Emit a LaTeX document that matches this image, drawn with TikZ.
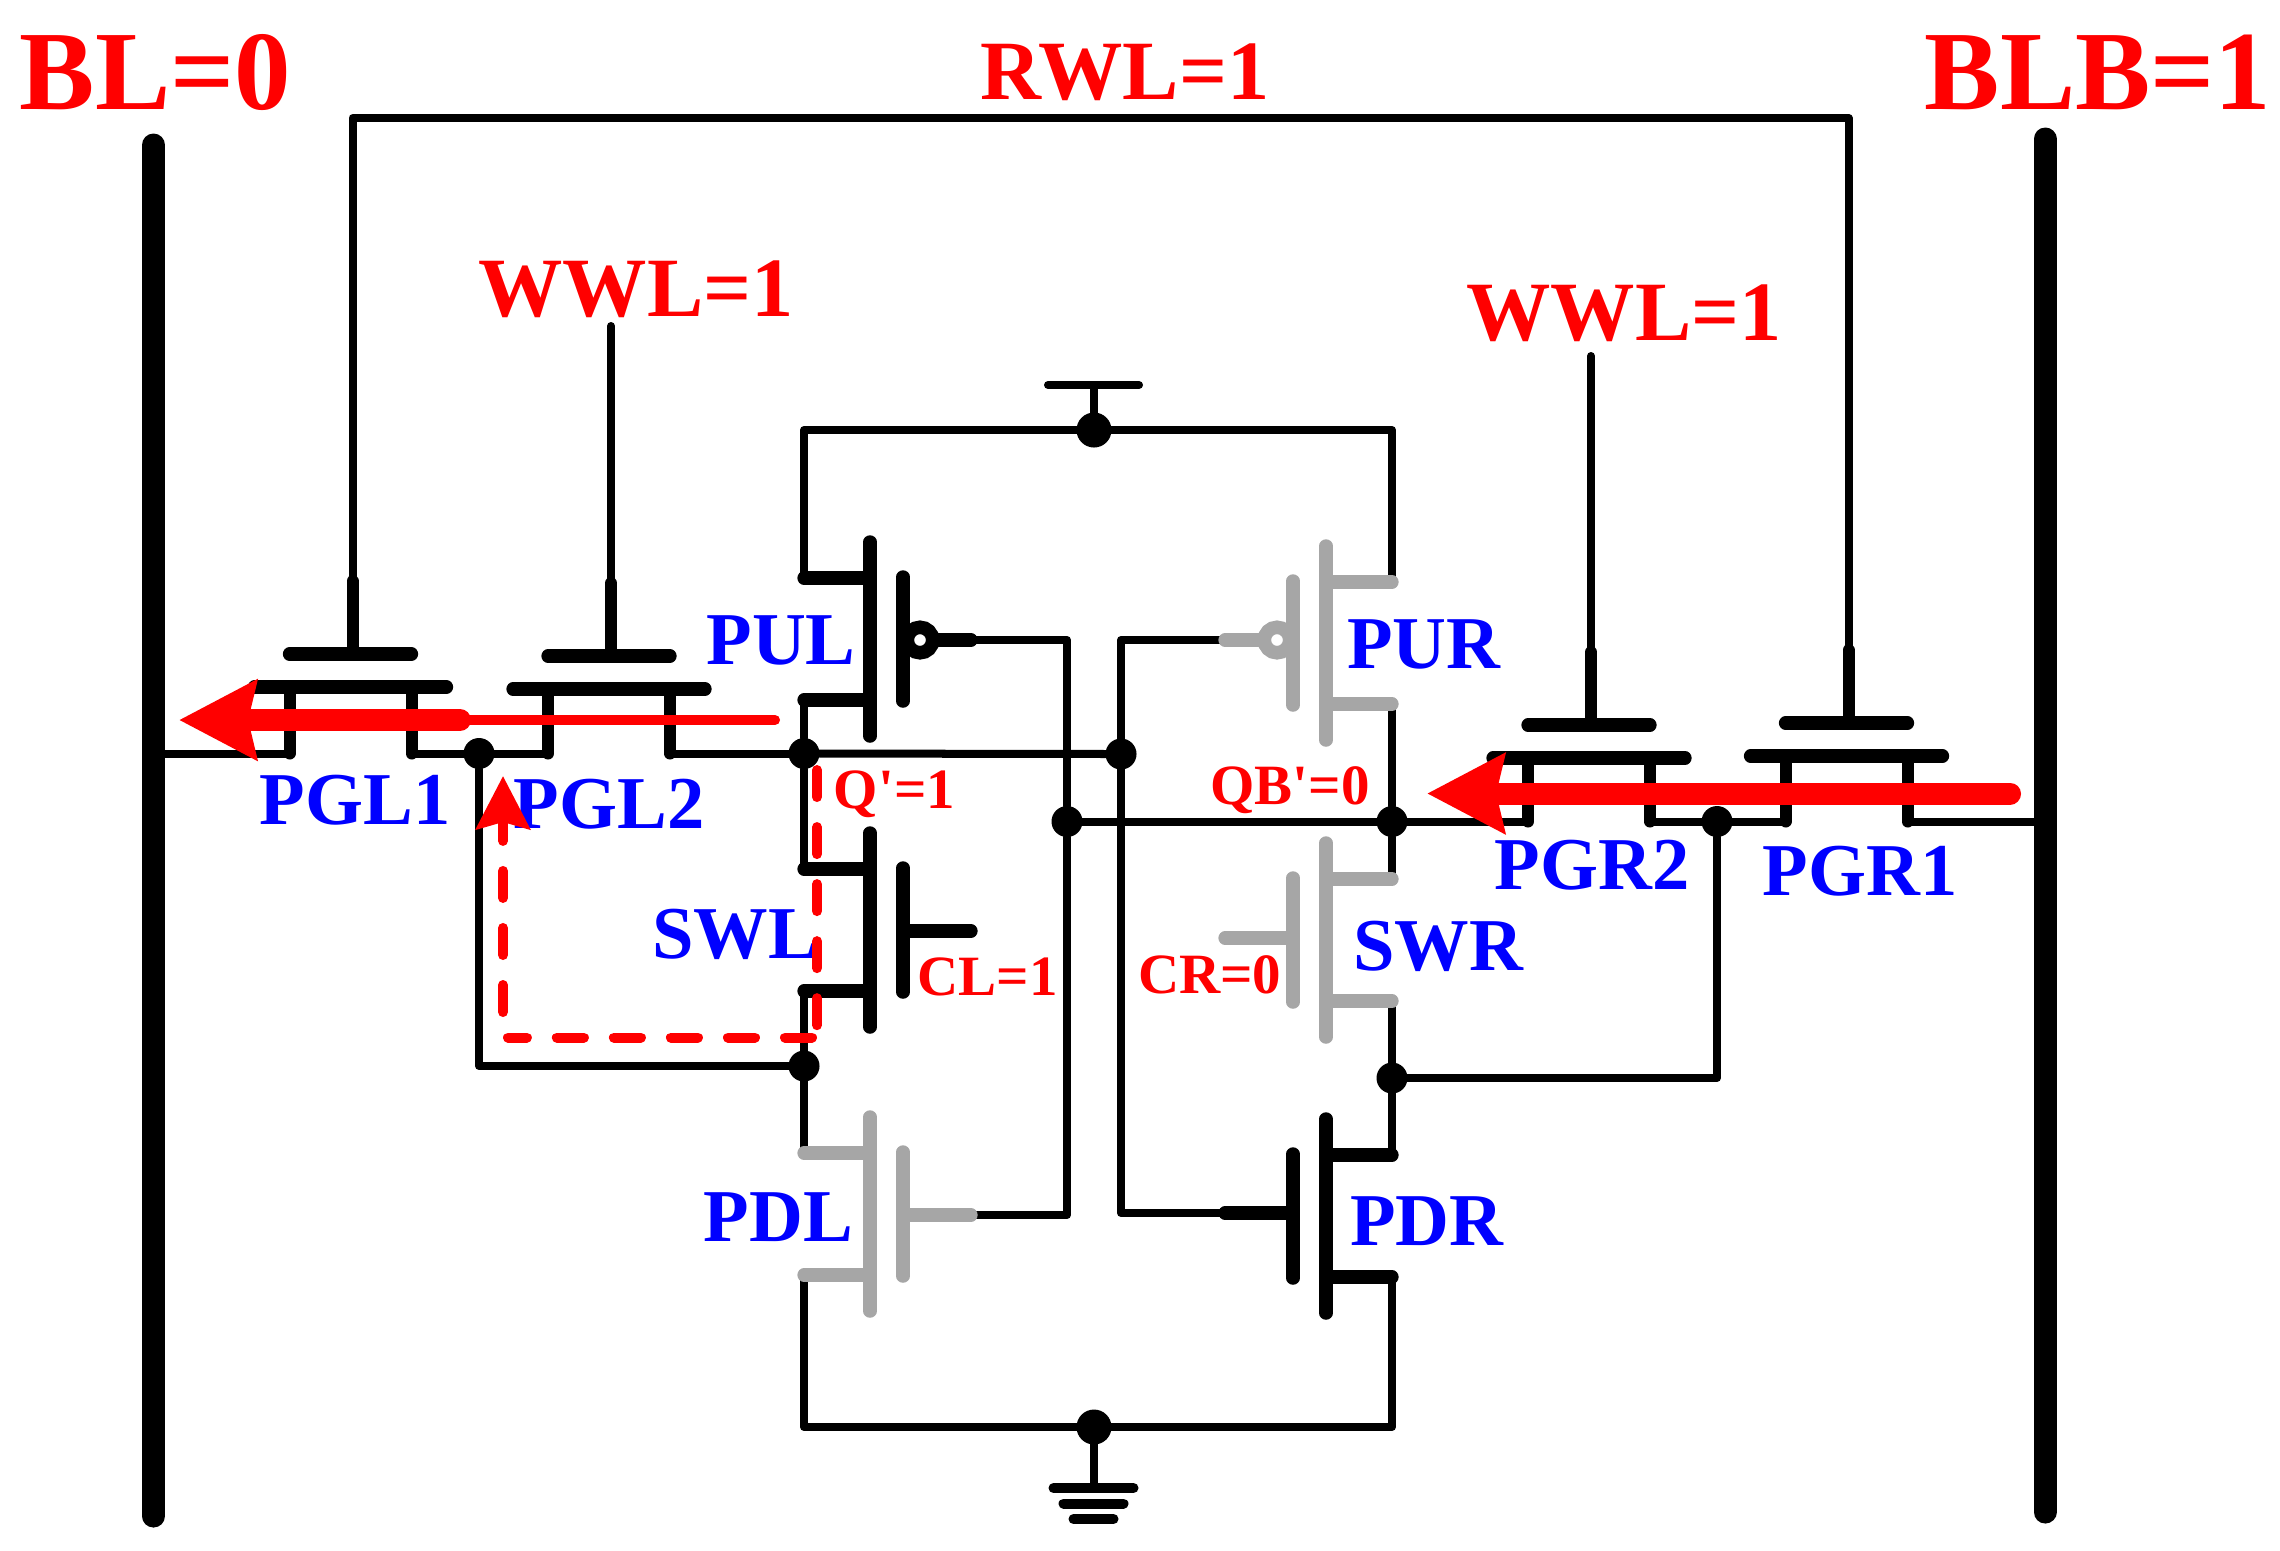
\documentclass[tikz,border=0pt]{standalone}
\usepackage{fontspec}
\setmainfont{Liberation Serif}
\usetikzlibrary{arrows.meta}
\definecolor{offgray}{HTML}{A6A6A6}
\tikzset{
  wire/.style={line width=0.08cm, line cap=round, line join=round},
  rail/.style={line width=0.23cm, line cap=round},
  stem/.style={line width=0.135cm, line cap=round},
  leg/.style={line width=0.12cm, line cap=round},
  bar/.style={line width=0.133cm, line cap=round},
  junction/.style={circle, fill=black, inner sep=0pt, outer sep=0pt, minimum size=0.31cm},
  supply/.style={junction, minimum size=0.35cm},
  bitlabel/.style={anchor=base, inner sep=0pt, text=red, font=\fontsize{32.1}{33}\selectfont\bfseries},
  linelabel/.style={anchor=base, inner sep=0pt, text=red, font=\fontsize{24}{25}\selectfont\bfseries},
  devlabel/.style={anchor=base, inner sep=0pt, text=blue, font=\fontsize{21.2}{22}\selectfont\bfseries},
  statelabel/.style={anchor=base, inner sep=0pt, text=red, font=\fontsize{16.2}{17}\selectfont\bfseries},
  flow/.style={draw=red, line cap=round, line width=0.22cm},
  flowthin/.style={draw=red, line cap=round, line width=0.10cm},
  flowdash/.style={draw=red, line cap=round, line width=0.10cm, dash pattern=on 0.27cm off 0.30cm},
  bigtip/.style={-{Stealth[length=0.77cm, width=0.78cm, inset=0.08cm]}},
  smalltip/.style={-{Stealth[length=0.53cm, width=0.535cm, inset=0.07cm]}}
}
\begin{document}
\begin{tikzpicture}[x=0.01cm, y=-0.01cm]
        \useasboundingbox (0,0) rectangle (2280,1550);
        \foreach \m/\x/\t/\b in {bl/153.5/145/1516, blb/2045/139/1512} {
          \coordinate (\m-top) at (\x,\t);
          \coordinate (\m-bot) at (\x,\b);
          \draw [rail] (\m-top) -- (\m-bot);
        }
        \coordinate (bl-tap) at (153.5,753.5);
        \coordinate (blb-tap) at (2045,821.5);
        \node [supply] (vdd) at (1094,430) {};
        \node [supply] (gnd) at (1094,1427) {};
        \node [junction] (ql) at (804,753.5) {};
        \node [junction] (midl) at (479,753.5) {};
        \node [junction] (qx) at (1121,754) {};
        \node [junction] (sl) at (804,1066) {};
        \node [junction] (qbx) at (1067,821.5) {};
        \node [junction] (qb) at (1392,821.5) {};
        \node [junction] (midr) at (1717,821.5) {};
        \node [junction] (sr) at (1392,1078) {};
        \foreach \n/\x/\y/\gy/\dir/\col in {PUL/870/639/640/1/black, SWL/870/930/931/1/black,
            PDL/870/1214/1215/1/offgray, PUR/1326/643/640/-1/offgray,
            SWR/1326/940/938/-1/offgray, PDR/1326/1216/1213/-1/black} {
          \coordinate (\n-t) at (\x-\dir*66,\y-61);
          \coordinate (\n-b) at (\x-\dir*66,\y+61);
          \coordinate (\n-g) at (\x+\dir*101,\gy);
        }
        \foreach \n/\x/\b/\c/\w/\top in {PGL1/350.5/654/687/753.5/118, PGL2/609/656/689/753.5/326,
            PGR2/1589/725/758/821.5/356, PGR1/1846.5/723/756/821.5/118} {
          \coordinate (\n-l) at (\x-61,\w);
          \coordinate (\n-r) at (\x+61,\w);
          \coordinate (\n-stem) at (\x+2,\b-73);
          \coordinate (\n-gate) at (\x+2,\b);
          \coordinate (\n-top) at (\x+2,\top);
        }
        \coordinate (vdd-top) at (1094,385);
        \coordinate (gnd-bot) at (1094,1488);
        \draw [wire] (PGL1-stem) -- (PGL1-top) -- (PGR1-top) -- (PGR1-stem);
        \draw [wire] (PGL2-stem) -- (PGL2-top);
        \draw [wire] (PGR2-stem) -- (PGR2-top);
        \draw [wire] (vdd-top) -- (vdd);
        \draw [wire] (gnd) -- (gnd-bot);
        \draw [wire] (PUL-t) |- (vdd);
        \draw [wire] (PUR-t) |- (vdd);
        \draw [wire] (PDL-b) |- (gnd);
        \draw [wire] (PDR-b) |- (gnd);
        \draw [wire] (PUL-b) -- (ql);
        \draw [wire] (ql) -- (SWL-t);
        \draw [wire] (SWL-b) -- (sl);
        \draw [wire] (sl) -- (PDL-t);
        \draw [wire] (PUR-b) -- (qb);
        \draw [wire] (qb) -- (SWR-t);
        \draw [wire] (SWR-b) -- (sr);
        \draw [wire] (sr) -- (PDR-t);
        \draw [wire] (bl-tap) -- (PGL1-l);
        \draw [wire] (PGL1-r) -- (midl);
        \draw [wire] (midl) -- (PGL2-l);
        \draw [wire] (PGL2-r) -- (ql);
        \draw [wire] (ql) -- (qx);
        \draw [wire] (qbx) -- (qb);
        \draw [wire] (qb) -- (PGR2-l);
        \draw [wire] (PGR2-r) -- (midr);
        \draw [wire] (midr) -- (PGR1-l);
        \draw [wire] (PGR1-r) -- (blb-tap);
        \draw [wire] (midl) |- (sl);
        \draw [wire] (sr) -| (midr);
        \draw [wire] (PUL-g) -| (qbx);
        \draw [wire] (qbx) |- (PDL-g);
        \draw [wire] (PUR-g) -| (qx);
        \draw [wire] (qx) |- (PDR-g);
        \foreach \n/\x/\y/\gy/\dir/\col in {PUL/870/639/640/1/black, SWL/870/930/931/1/black,
            PDL/870/1214/1215/1/offgray, PUR/1326/643/640/-1/offgray,
            SWR/1326/940/938/-1/offgray, PDR/1326/1216/1213/-1/black} {
          \draw [bar, draw=\col] (\n-t) -- (\x,\y-61);
          \draw [bar, draw=\col] (\n-b) -- (\x,\y+61);
          \draw [bar, draw=\col] (\n-g) -- (\x+\dir*33,\gy);
          \draw [stem, draw=\col] (\x,\y-97) -- (\x,\y+97);
          \draw [stem, draw=\col] (\x+\dir*33,\y-62) -- (\x+\dir*33,\y+62);
        }
        \foreach \x/\y/\col in {920/640/black, 1277/640/offgray}
          \draw [line width=0.135cm, draw=\col, fill=white] (\x,\y) circle (12.75);
        \foreach \n/\x/\b/\c/\w/\top in {PGL1/350.5/654/687/753.5/118, PGL2/609/656/689/753.5/326,
            PGR2/1589/725/758/821.5/356, PGR1/1846.5/723/756/821.5/118} {
          \draw [leg] (\n-stem) -- (\n-gate);
          \draw [bar] (\x-61,\b) -- (\x+61,\b);
          \draw [bar] (\x-96,\c) -- (\x+96,\c);
          \draw [leg] (\n-l) -- (\x-61,\c);
          \draw [leg] (\n-r) -- (\x+61,\c);
        }
        \draw [line width=0.08cm, line cap=round] (1048,385) -- (1139,385);
        \foreach \y/\w in {1488/40, 1503.5/30, 1519/20}
          \draw [line width=0.10cm, line cap=round] (1093.5-\w,\y) -- (1093.5+\w,\y);
        \node [bitlabel] (bl-label) at (155.6,109.3) {BL=0};
        \node [bitlabel] (blb-label) at (2098,109.3) {BLB=1};
        \node [linelabel] (rwl-label) at (1125,99) {RWL=1};
        \node [linelabel] (wwll-label) at (636,316) {WWL=1};
        \node [linelabel] (wwlr-label) at (1624,340) {WWL=1};
        \foreach \l/\x/\y in {PUL/781/664, PGL1/355/824.6, PGL2/609/828, SWL/735/958, PDL/778.5/1241,
            PDR/1427/1245, PUR/1424/668.6, SWR/1438/970, PGR2/1592/889, PGR1/1860/895}
          \node [devlabel] (\l-label) at (\x,\y) {\l};
        \node [statelabel] (ql-label) at (894.5,808) {Q\textquotesingle=1};
        \node [statelabel] (qb-label) at (1290,804) {QB\textquotesingle=0};
        \node [statelabel] (cl-label) at (987.5,995) {CL=1};
        \node [statelabel] (cr-label) at (1209.7,993.6) {CR=0};
        \coordinate (read-a) at (775,720);
        \coordinate (read-b) at (460,720);
        \coordinate (read-tip) at (179,720);
        \coordinate (write-a) at (2010,793.5);
        \coordinate (write-tip) at (1427,793.5);
        \coordinate (hold-a) at (817,770);
        \coordinate (hold-b) at (817,1037.5);
        \coordinate (hold-c) at (812,1037.5);
        \coordinate (hold-d) at (508,1037.5);
        \coordinate (hold-e) at (503,1012);
        \coordinate (hold-tip) at (503,776);
        \draw [flowthin] (read-a) -- (read-b);
        \draw [flow, bigtip] (read-b) -- (read-tip);
        \draw [flow, bigtip] (write-a) -- (write-tip);
        \draw [flowdash] (hold-a) -- (hold-b);
        \draw [flowdash] (hold-c) -- (hold-d);
        \draw [flowdash, smalltip] (hold-e) -- (hold-tip);
    \end{tikzpicture}
\end{document}
